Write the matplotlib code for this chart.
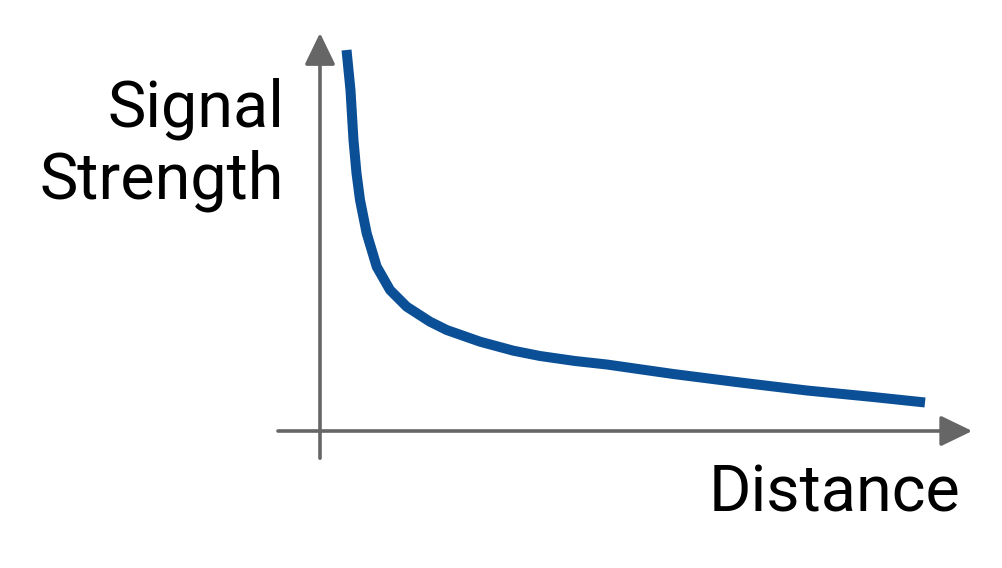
import matplotlib.pyplot as plt

# signal strength vs distance (arbitrary units)
distance = [0.442, 0.475, 0.508, 0.533, 0.558, 0.608, 0.667, 0.778, 0.945, 1.167,
            1.445, 1.833, 2.112, 2.667, 3.222, 3.667, 4.25, 4.778, 5.888, 7.0,
            8.112, 9.217, 10.083]
signal = [9.525, 9.025, 8.525, 7.9, 7.275, 6.45, 5.775, 4.943, 4.108, 3.525,
          3.108, 2.733, 2.525, 2.233, 2.008, 1.875, 1.75, 1.663, 1.425, 1.213,
          1.013, 0.85, 0.713]

axis_col = '#666666'
line_col = '#0b4f96'

fig = plt.figure(figsize=(10.03, 5.68), dpi=100)
ax = fig.add_axes([0, 0, 1, 1])
ax.set_xlim(-5.333, 11.383)
ax.set_ylim(-3.425, 10.775)
ax.axis('off')

arrow = dict(arrowstyle='-|>,head_length=19.4,head_width=9.4', mutation_scale=1,
             lw=2.6, color=axis_col, shrinkA=0, shrinkB=0)
ax.annotate('', xy=(0, 9.95), xytext=(0, -0.68), arrowprops=arrow)
ax.annotate('', xy=(10.87, 0), xytext=(-0.7, 0), arrowprops=arrow)

ax.plot(distance, signal, color=line_col, lw=7.2, solid_capstyle='butt', solid_joinstyle='round')

ax.text(-0.6, 7.15, 'Signal\nStrength', ha='right', va='center', fontsize=46.5,
        family='Roboto', linespacing=1.2)
ax.text(10.67, -1.575, 'Distance', ha='right', va='center', fontsize=46.5, family='Roboto')

fig.savefig('out.png', dpi=100)
